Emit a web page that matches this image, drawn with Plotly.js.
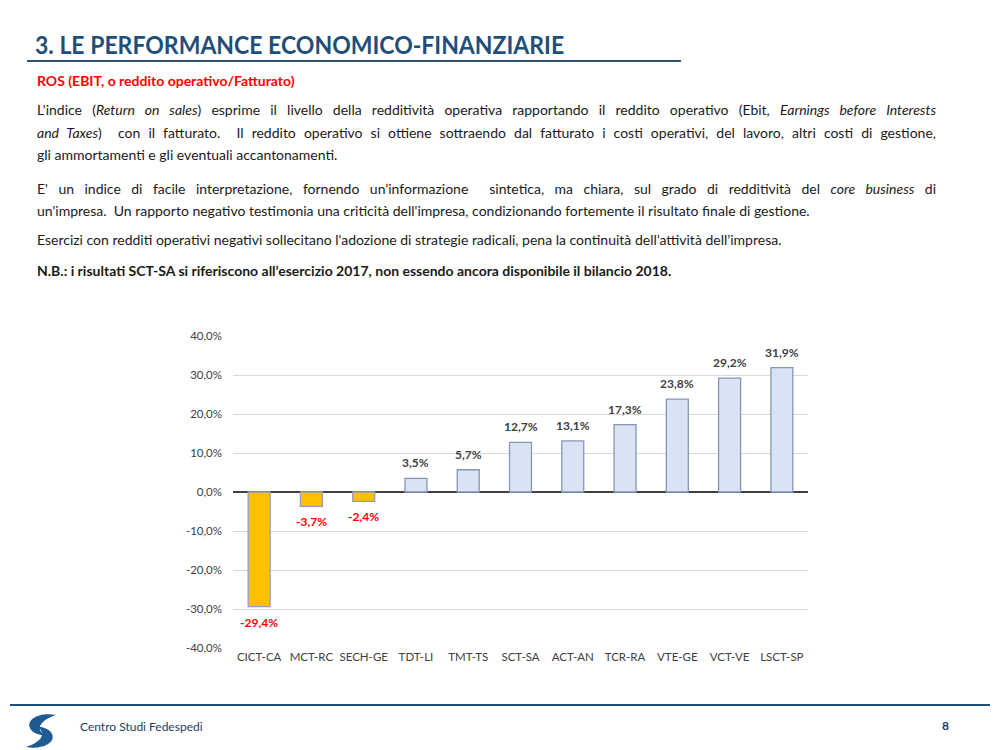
<!DOCTYPE html>
<html>
<head>
<meta charset="utf-8">
<script src="https://cdn.plot.ly/plotly-3.0.1.min.js"></script>
<style>
  html, body { margin:0; padding:0; background:#fff; }
  body { width:1000px; height:750px; position:relative; overflow:hidden; font-family: Lato, "Open Sans", sans-serif; }
  .abs { position:absolute; }
  #title { left:35px; top:29px; font-size:25px; font-weight:bold; color:#1F4E79; transform:scaleX(0.92); transform-origin:left top; white-space:nowrap; }
  #tline { left:27px; top:60px; width:654px; height:2px; background:#2F5272; }
  #sub { left:37px; top:72px; font-size:14px; font-weight:bold; color:#FF0000; }
  .line { position:absolute; left:37px; width:899px; font-size:14px; color:#1a1a1a; white-space:nowrap; }
  .j { text-align:justify; text-align-last:justify; white-space:normal; }
  #chart { left:0; top:300px; width:1000px; height:400px; }
  #fline { left:10px; top:704px; width:980px; height:2px; background:#1F4E79; }
  #foot { left:80px; top:719px; font-size:12px; color:#1F3A5F; }
  #page { left:942px; top:718px; font-size:12px; font-weight:bold; color:#1F3A5F; }
</style>
</head>
<body>
<div id="title" class="abs">3. LE PERFORMANCE ECONOMICO-FINANZIARIE</div>
<div id="tline" class="abs"></div>
<div id="sub" class="abs">ROS (EBIT, o reddito operativo/Fatturato)</div>

<div class="line j" style="top:101px">L'indice (<i>Return on sales</i>) esprime il livello della redditività operativa rapportando il reddito operativo (Ebit, <i>Earnings before Interests</i></div>
<div class="line j" style="top:124px"><i>and Taxes</i>)&nbsp; con il fatturato.&nbsp; Il reddito operativo si ottiene sottraendo dal fatturato i costi operativi, del lavoro, altri costi di gestione,</div>
<div class="line" style="top:146px">gli ammortamenti e gli eventuali accantonamenti.</div>
<div class="line j" style="top:180px">E' un indice di facile interpretazione, fornendo un’informazione&nbsp; sintetica, ma chiara, sul grado di redditività del <i>core business</i> di</div>
<div class="line" style="top:202px">un'impresa.&nbsp; Un rapporto negativo testimonia una criticità dell'impresa, condizionando fortemente il risultato finale di gestione.</div>
<div class="line" style="top:231px">Esercizi con redditi operativi negativi sollecitano l'adozione di strategie radicali, pena la continuità dell’attività dell’impresa.</div>
<div class="line" style="top:262px; font-weight:bold">N.B.: i risultati SCT-SA si riferiscono all’esercizio 2017, non essendo ancora disponibile il bilancio 2018.</div>

<div id="chart" class="abs"></div>

<div id="fline" class="abs"></div>
<svg class="abs" style="left:22px;top:709px" width="42" height="40" viewBox="0 0 42 40">
  <path d="M34 6 C18 3 4 10 8 19 C10 24 17 26 24 27 C15 22 14 13 34 6 Z" fill="#1E5A93"/>
  <path d="M4 38 C20 41 34 34 30 25 C28 20 21 18 14 17 C23 22 24 31 4 38 Z" fill="#1E5A93"/>
</svg>
<div id="foot" class="abs">Centro Studi Fedespedi</div>
<div id="page" class="abs">8</div>

<script>
const categories = ["CICT-CA","MCT-RC","SECH-GE","TDT-LI","TMT-TS","SCT-SA","ACT-AN","TCR-RA","VTE-GE","VCT-VE","LSCT-SP"];
const rosValues = [-29.4, -3.7, -2.4, 3.5, 5.7, 12.7, 13.1, 17.3, 23.8, 29.2, 31.9];
const tickValues = [-40, -30, -20, -10, 0, 10, 20, 30, 40];
const tickLabels = ["-40,0%", "-30,0%", "-20,0%", "-10,0%", "0,0%", "10,0%", "20,0%", "30,0%", "40,0%"];

const fillColors = rosValues.map(v => v < 0 ? "#FFC000" : "#DAE3F3");
const lineColors = rosValues.map(v => v < 0 ? "#8EA0C0" : "#8497B8");

const trace = {
  type: "bar",
  x: categories,
  y: rosValues,
  marker: { color: fillColors, line: { color: lineColors, width: 1.3 } },
  hoverinfo: "none"
};

const labels = categories.map((c, i) => {
  const v = rosValues[i];
  const neg = v < 0;
  return {
    x: c, y: v, xref: "x", yref: "y",
    text: "<b>" + v.toFixed(1).replace(".", ",") + "%</b>",
    showarrow: false,
    yanchor: neg ? "top" : "bottom",
    yshift: neg ? -6 : 6,
    font: { family: "Lato, sans-serif", size: 12, color: neg ? "#FF0000" : "#404040" }
  };
});

const layout = {
  width: 1000, height: 400,
  margin: { l: 233, r: 192, t: 36, b: 52 },
  paper_bgcolor: "rgba(0,0,0,0)",
  plot_bgcolor: "rgba(0,0,0,0)",
  separators: ",.",
  bargap: 0.58,
  showlegend: false,
  annotations: labels,
  font: { family: "Lato, sans-serif", size: 12, color: "#404040" },
  xaxis: {
    type: "category",
    showgrid: false, zeroline: false, showline: false,
    ticks: "", tickfont: { size: 11.5, color: "#404040" },
    tickangle: 0
  },
  yaxis: {
    range: [-40, 40],
    tickmode: "array",
    tickvals: tickValues,
    ticktext: tickLabels,
    showgrid: true, gridcolor: "#D9D9D9", gridwidth: 1,
    zeroline: true, zerolinecolor: "#404040", zerolinewidth: 2,
    showline: false, ticks: "",
    ticklabelstandoff: 10,
    tickfont: { size: 11.5, color: "#404040" }
  }
};

Plotly.newPlot("chart", [trace], layout, { staticPlot: true, displayModeBar: false });
</script>
</body>
</html>
